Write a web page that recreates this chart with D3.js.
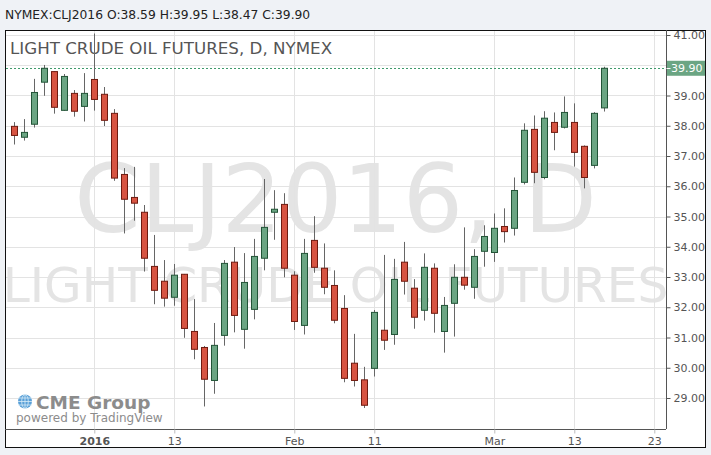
<!DOCTYPE html>
<html><head><meta charset="utf-8">
<script src="https://cdn.jsdelivr.net/npm/d3@7"></script>
<style>
html,body{margin:0;padding:0;background:#eff2f6;}
svg{display:block;font-family:"DejaVu Sans",sans-serif;}
</style></head><body>
<svg id="c" width="711" height="455"></svg>
<script>
// ---- data ----
const openV  = [37.98,37.62,38.05,39.44,39.79,38.51,39.07,38.64,39.53,39.04,38.41,36.39,35.63,35.14,33.35,32.86,32.33,33.09,31.20,30.67,29.58,31.07,33.49,31.27,31.93,33.62,35.14,35.40,33.06,31.40,34.21,33.29,32.72,31.96,30.15,29.60,29.98,31.24,31.10,33.49,32.63,31.90,33.29,31.20,32.13,32.99,32.66,33.85,33.81,34.67,34.61,36.13,37.88,36.29,38.11,37.95,38.11,37.32,36.69,38.59];
const highV  = [38.12,38.22,39.55,40.01,39.80,39.71,39.18,39.74,41.05,39.28,38.55,36.60,36.64,35.38,34.39,33.56,33.43,33.10,32.27,30.72,31.48,33.56,33.99,33.79,34.26,36.24,35.87,35.77,33.19,34.26,35.01,34.11,33.22,32.40,31.12,30.03,31.91,33.73,33.60,34.16,32.93,33.78,33.45,32.34,33.42,34.64,33.92,34.71,35.10,35.27,36.29,38.08,38.34,38.48,38.44,38.97,38.74,37.35,38.45,39.95];
const lowV   = [37.38,37.51,37.94,38.99,38.40,38.49,38.30,38.14,38.50,37.99,36.18,34.44,34.86,33.18,32.10,32.02,32.05,30.99,30.28,28.72,29.14,30.73,31.17,30.63,31.60,33.22,34.23,32.99,31.25,31.10,33.14,32.43,31.47,29.52,29.38,28.67,29.71,30.59,30.76,32.42,31.29,31.56,31.16,30.50,31.03,32.58,32.28,33.34,33.50,34.14,34.37,36.06,36.10,36.23,37.19,37.91,36.65,35.93,36.59,38.47];
const closeV = [37.68,37.78,39.10,39.90,38.61,39.63,38.48,39.07,38.87,38.18,36.27,35.57,35.44,33.62,32.56,32.30,33.06,31.30,30.61,29.62,30.74,33.45,31.73,32.82,33.68,34.64,35.24,33.29,31.53,33.78,33.32,32.66,31.57,29.65,29.58,28.76,31.83,30.91,32.92,32.86,31.67,33.32,31.80,32.06,32.99,32.73,33.68,34.34,34.61,34.50,35.86,37.85,36.46,38.25,37.78,38.44,37.12,36.29,38.41,39.90];
const xTickBars   = [8,16,28,36,48,56,64];
const xTickLabels = ["2016","13","Feb","11","Mar","13","23"];
const yTicks = [29,30,31,32,33,34,35,36,37,38,39,40,41];
const lastPrice = 39.90;
const headerText = "NYMEX:CLJ2016 O:38.59 H:39.95 L:38.47 C:39.90";
const titleText = "LIGHT CRUDE OIL FUTURES, D, NYMEX";
const wm1 = "CLJ2016, D", wm2 = "LIGHT CRUDE OIL FUTURES";

// ---- layout ----
const L=5, R=666, T=30, B=429, FR=706, FB=448;
const svg = d3.select("#c");
const x = d3.scaleLinear().domain([0,59]).range([14.3,604.3]);
const y = d3.scaleLinear().domain([29,41]).range([398,35]);

svg.append("text").attr("x",5).attr("y",19).attr("font-size",12.3).attr("fill","#222").text(headerText);

// frame background
svg.append("rect").attr("x",L+0.5).attr("y",T+0.5).attr("width",FR-L-1).attr("height",FB-T-1).attr("fill","#fff").attr("stroke","#111").attr("stroke-width",1);

// watermark
const cx=(L+R)/2;
svg.append("text").attr("x",cx).attr("y",232).attr("text-anchor","middle").attr("font-size",95).attr("fill","#e4e4e4").text(wm1);
svg.append("text").attr("x",cx).attr("y",302).attr("text-anchor","middle").attr("font-size",48.5).attr("fill","#e4e4e4").text(wm2);

// grid
const g = svg.append("g");
g.selectAll("line.hy").data(yTicks).join("line")
 .attr("x1",L+1).attr("x2",R).attr("y1",d=>Math.round(y(d))+0.5).attr("y2",d=>Math.round(y(d))+0.5)
 .attr("stroke","#e3e3e3");
g.selectAll("line.vx").data(xTickBars).join("line")
 .attr("x1",d=>Math.round(x(d))+0.5).attr("x2",d=>Math.round(x(d))+0.5).attr("y1",T+1).attr("y2",B)
 .attr("stroke","#e3e3e3");

// title
svg.append("text").attr("x",10).attr("y",54).attr("font-size",16.7).attr("fill","#555").text(titleText);

// last price dashed line
svg.append("line").attr("x1",L+1).attr("x2",R).attr("y1",Math.round(y(lastPrice))+0.5).attr("y2",Math.round(y(lastPrice))+0.5)
 .attr("stroke","#3e9a6b").attr("stroke-dasharray","2,2");

// candles
svg.append("clipPath").attr("id","pc").append("rect").attr("x",L+1).attr("y",T+1).attr("width",R-L-1).attr("height",B-T-1);
const data = openV.map((o,i)=>({i,o,h:highV[i],l:lowV[i],c:closeV[i]}));
const cg = svg.append("g").attr("clip-path","url(#pc)");
const cand = cg.selectAll("g").data(data).join("g");
cand.append("line")
 .attr("x1",d=>Math.round(x(d.i))+0.5).attr("x2",d=>Math.round(x(d.i))+0.5)
 .attr("y1",d=>y(d.h)).attr("y2",d=>y(d.l)).attr("stroke","#666").attr("stroke-width",1);
cand.append("rect")
 .attr("x",d=>Math.round(x(d.i))-2.5).attr("width",6)
 .attr("y",d=>y(Math.max(d.o,d.c))).attr("height",d=>Math.max(1,Math.abs(y(d.o)-y(d.c))))
 .attr("fill",d=>d.c>=d.o?"#6ba583":"#d75442")
 .attr("stroke",d=>d.c>=d.o?"#225437":"#6f1b10").attr("stroke-width",1);

// axes
const ya = d3.axisRight(y).tickValues(yTicks.filter(v=>Math.abs(v-lastPrice)>0.3)).tickFormat(d3.format(".2f")).tickSize(4).tickPadding(3);
const yg = svg.append("g").attr("transform",`translate(${R+0.5},0)`).call(ya);
yg.select(".domain").attr("d",`M0,${T}V${B}`).attr("stroke","#555");
yg.selectAll(".tick line").attr("stroke","#555");
yg.selectAll(".tick text").attr("fill","#555").attr("font-size",11).attr("font-family","DejaVu Sans");

const xa = d3.axisBottom(x).tickValues(xTickBars).tickFormat((d,i)=>xTickLabels[i]).tickSize(4).tickPadding(4);
const xg = svg.append("g").attr("transform",`translate(0,${B+0.5})`).call(xa);
xg.select(".domain").attr("d",`M${L},0H${R}`).attr("stroke","#555");
xg.selectAll(".tick line").attr("stroke","#bbb");
xg.selectAll(".tick text").attr("fill","#555").attr("font-size",11).attr("font-family","DejaVu Sans")
 .attr("font-weight",(d,i)=>i===0?"bold":"normal");

// price label
const py = y(lastPrice);
svg.append("rect").attr("x",R+1).attr("y",py-7.5).attr("width",38).attr("height",15).attr("fill","#6ba583");
svg.append("line").attr("x1",R+0.5).attr("x2",R+4.5).attr("y1",Math.round(py)+0.5).attr("y2",Math.round(py)+0.5).attr("stroke","#fff");
svg.append("text").attr("x",R+5).attr("y",py+4).attr("font-size",11).attr("fill","#fff").text(d3.format(".2f")(lastPrice));

// logo
const lg = svg.append("g");
lg.append("circle").attr("cx",25).attr("cy",401.5).attr("r",7).attr("fill","#5aa0d8");
[-3.5,0,3.5].forEach(o=>lg.append("line").attr("x1",18).attr("x2",32).attr("y1",401.5+o).attr("y2",401.5+o).attr("stroke","#d8ecf8").attr("stroke-width",0.8));
lg.append("ellipse").attr("cx",25).attr("cy",401.5).attr("rx",3.3).attr("ry",7).attr("fill","none").attr("stroke","#d8ecf8").attr("stroke-width",0.8);
lg.append("line").attr("x1",25).attr("x2",25).attr("y1",394.5).attr("y2",408.5).attr("stroke","#d8ecf8").attr("stroke-width",0.8);
lg.append("text").attr("x",36).attr("y",408.5).attr("font-size",18.5).attr("font-weight","bold").attr("fill","#8c8c8c").text("CME Group");
lg.append("text").attr("x",16).attr("y",422).attr("font-size",12).attr("fill","#8c8c8c").text("powered by TradingView");
</script></body></html>
